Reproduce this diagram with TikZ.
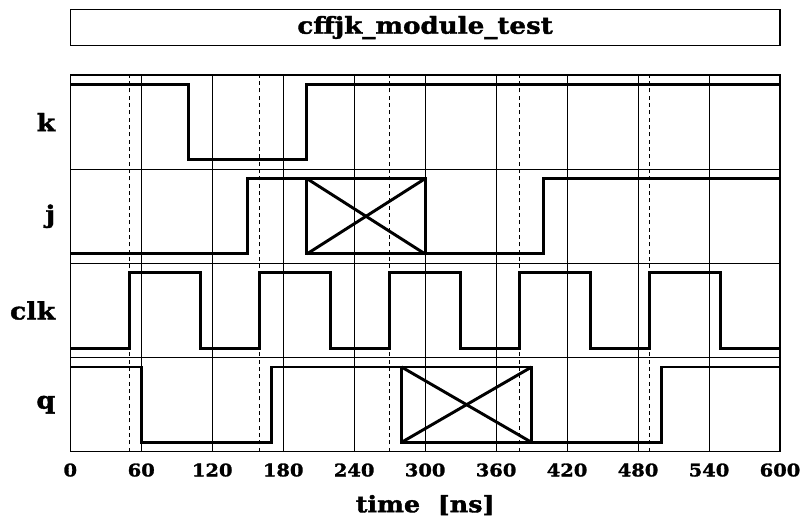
\documentclass[tikz,border=0pt]{standalone}
\usepackage{fontspec}
\setmainfont{DejaVu Serif}
\newfontfamily\heavyfont[FakeStretch=1.12, FakeBold=1.6]{DejaVu Serif Bold}

\begin{document}
\begin{tikzpicture}[
	x=0.88713pt, y=70.65pt,
	sig/.style = {line width=2.2pt, line join=miter},
	grd/.style = {line width=0.75pt},
	clkl/.style = {line width=0.75pt, dash pattern=on 3pt off 2.5pt},
	lbl/.style = {anchor=east, inner sep=0, font=\fontsize{18pt}{20pt}\heavyfont},
	tck/.style = {inner sep=0, font=\fontsize{13pt}{15pt}\heavyfont}
	]
	\useasboundingbox (-59.43, -0.7464) rectangle (622.83, 4.796);
	
	% === === === Title === === ===
	\draw[line width=0.9pt] (0, 4.31) rectangle (600, 4.696);
	\node[inner sep=0, font=\fontsize{17.5pt}{19pt}\heavyfont] (title) at (300, 4.503) {cffjk\_module\_test};
	
	
	
	% === === === Grid === === ===
	\draw[grd] (60, 0) -- (60, 4);
	\draw[grd] (120, 0) -- (120, 4);
	\draw[grd] (180, 0) -- (180, 4);
	\draw[grd] (240, 0) -- (240, 4);
	\draw[grd] (300, 0) -- (300, 4);
	\draw[grd] (360, 0) -- (360, 4);
	\draw[grd] (420, 0) -- (420, 4);
	\draw[grd] (480, 0) -- (480, 4);
	\draw[grd] (540, 0) -- (540, 4);
	
	\draw[clkl] (50, 0) -- (50, 4);
	\draw[clkl] (160, 0) -- (160, 4);
	\draw[clkl] (270, 0) -- (270, 4);
	\draw[clkl] (380, 0) -- (380, 4);
	\draw[clkl] (490, 0) -- (490, 4);
	
	\draw[grd] (0, 1) -- (600, 1);
	\draw[grd] (0, 2) -- (600, 2);
	\draw[grd] (0, 3) -- (600, 3);
	\draw[line width=1pt] (0, 0) rectangle (600, 4);
	
	
	
	% === === === Signals === === ===
	\node[lbl]	(k)		at	(-12.5, 3.5)	{k};
	\node[lbl]	(j)		at	(-12.5, 2.5)	{j};
	\node[lbl]	(clk)	at	(-12.5, 1.5)	{clk};
	\node[lbl]	(q)		at	(-12.5, 0.5)	{q};
	
	\draw[sig] (0, 3.9) -- (100, 3.9) -- (100, 3.1) -- (200, 3.1) -- (200, 3.9) -- (600, 3.9);
	
	\draw[sig] (0, 2.1) -- (150, 2.1) -- (150, 2.9) -- (200, 2.9);
	\draw[sig] (200, 2.1) rectangle (300, 2.9);
	\draw[sig] (200, 2.1) -- (300, 2.9);
	\draw[sig] (200, 2.9) -- (300, 2.1);
	\draw[sig] (300, 2.1) -- (400, 2.1) -- (400, 2.9) -- (600, 2.9);
	
	\draw[sig] (0, 1.1) -- (50, 1.1) -- (50, 1.9) -- (110, 1.9) -- (110, 1.1) -- (160, 1.1) -- (160, 1.9) -- (220, 1.9) -- (220, 1.1) -- (270, 1.1) -- (270, 1.9) -- (330, 1.9) -- (330, 1.1) -- (380, 1.1) -- (380, 1.9) -- (440, 1.9) -- (440, 1.1) -- (490, 1.1) -- (490, 1.9) -- (550, 1.9) -- (550, 1.1) -- (600, 1.1) -- (600, 1.9);
	
	\draw[sig] (0, 0.9) -- (60, 0.9) -- (60, 0.1) -- (170, 0.1) -- (170, 0.9) -- (280, 0.9);
	\draw[sig] (280, 0.1) rectangle (390, 0.9);
	\draw[sig] (280, 0.1) -- (390, 0.9);
	\draw[sig] (280, 0.9) -- (390, 0.1);
	\draw[sig] (390, 0.1) -- (500, 0.1) -- (500, 0.9) -- (600, 0.9);
	
	
	
	% === === === Axis === === ===
	\node[tck]	(t0)	at	(0, -0.194)		{0};
	\node[tck]	(t60)	at	(60, -0.194)	{60};
	\node[tck]	(t120)	at	(120, -0.194)	{120};
	\node[tck]	(t180)	at	(180, -0.194)	{180};
	\node[tck]	(t240)	at	(240, -0.194)	{240};
	\node[tck]	(t300)	at	(300, -0.194)	{300};
	\node[tck]	(t360)	at	(360, -0.194)	{360};
	\node[tck]	(t420)	at	(420, -0.194)	{420};
	\node[tck]	(t480)	at	(480, -0.194)	{480};
	\node[tck]	(t540)	at	(540, -0.194)	{540};
	\node[tck]	(t600)	at	(600, -0.194)	{600};
	
	\node[inner sep=0, font=\fontsize{17pt}{19pt}\heavyfont] (xlabel) at (300, -0.566) {time\ \ [ns]};
	
\end{tikzpicture}
\end{document}
